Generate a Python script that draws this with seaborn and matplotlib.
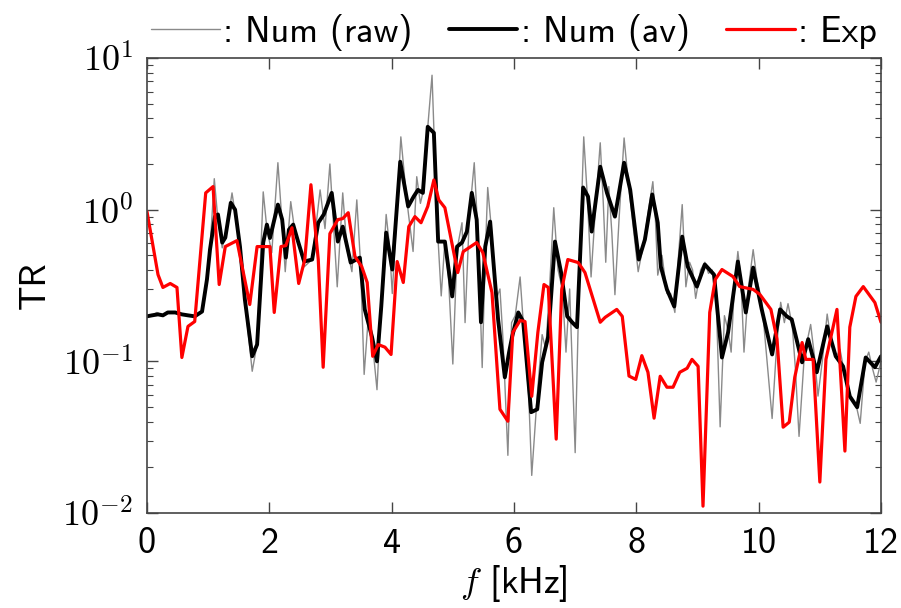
import numpy as np
import pandas as pd
import matplotlib
matplotlib.use("Agg")
import matplotlib.pyplot as plt
import matplotlib.ticker as mticker
import seaborn as sns

# ---- data ----
raw_f = [0.00, 0.08, 0.16, 0.26, 0.34, 0.46, 0.57, 0.67, 0.78, 0.90, 0.98, 1.03, 1.10, 1.16, 1.23,
         1.30, 1.39, 1.44, 1.52, 1.60, 1.72, 1.80, 1.90, 1.96, 2.04, 2.14, 2.21, 2.26, 2.35, 2.42,
         2.50, 2.57, 2.70, 2.83, 2.91, 2.99, 3.11, 3.20, 3.27, 3.35, 3.43, 3.49, 3.55, 3.62, 3.68,
         3.76, 3.83, 3.91, 3.96, 4.01, 4.08, 4.15, 4.22, 4.27, 4.35, 4.41, 4.47, 4.53, 4.59, 4.66,
         4.72, 4.76, 4.81, 4.87, 4.93, 5.00, 5.07, 5.15, 5.20, 5.27, 5.35, 5.41, 5.48, 5.53, 5.57,
         5.63, 5.70, 5.77, 5.82, 5.90, 5.96, 6.02, 6.10, 6.16, 6.24, 6.29, 6.38, 6.46, 6.52, 6.58,
         6.65, 6.72, 6.79, 6.85, 6.91, 7.00, 7.07, 7.14, 7.20, 7.26, 7.33, 7.41, 7.46, 7.50, 7.55,
         7.60, 7.65, 7.72, 7.80, 7.87, 7.93, 8.03, 8.12, 8.20, 8.27, 8.31, 8.35, 8.42, 8.50, 8.56,
         8.63, 8.69, 8.75, 8.81, 8.87, 8.92, 8.97, 9.05, 9.12, 9.18, 9.24, 9.30, 9.37, 9.44, 9.50,
         9.55, 9.60, 9.66, 9.71, 9.76, 9.83, 9.91, 9.97, 10.05, 10.12, 10.22, 10.29, 10.36, 10.42,
         10.48, 10.55, 10.60, 10.66, 10.74, 10.80, 10.85, 10.91, 10.97, 11.04, 11.12, 11.18, 11.26,
         11.33, 11.40, 11.47, 11.54, 11.60, 11.66, 11.74, 11.80, 11.86, 11.92, 12.00]
raw_tr = [0.198, 0.201, 0.21, 0.20, 0.212, 0.21, 0.204, 0.201, 0.198, 0.213, 0.35, 0.55, 1.60, 0.85, 0.56,
          0.75, 1.29, 0.95, 0.55, 0.25, 0.086, 0.13, 1.31, 0.75, 0.52, 2.04, 0.80, 0.39, 1.13, 0.70,
          0.55, 0.42, 0.47, 1.35, 0.75, 2.0, 0.31, 1.29, 0.55, 0.39, 1.16, 0.45, 0.082, 0.20, 0.14,
          0.065, 0.25, 0.93, 0.60, 0.28, 0.9, 3.02, 1.5, 0.97, 0.53, 1.65, 1.1, 1.4, 3.5, 7.7,
          1.5, 0.62, 0.27, 0.62, 0.35, 0.096, 0.55, 0.82, 0.18, 0.9, 2.04, 0.7, 0.091, 0.5, 1.40,
          0.75, 0.25, 0.3, 0.14, 0.024, 0.18, 0.2, 0.36, 0.16, 0.06, 0.0177, 0.06, 0.15, 0.12, 0.3,
          1.03, 0.4, 0.3, 0.115, 0.3, 0.025, 0.4, 3.02, 1.2, 0.36, 1.0, 2.76, 1.1, 0.45, 1.42,
          0.7, 0.275, 0.9, 2.97, 1.5, 0.9, 0.39, 0.6, 1.0, 1.53, 0.9, 0.37, 0.5, 0.28, 0.28,
          0.21, 0.5, 1.08, 0.31, 0.45, 0.40, 0.26, 0.4, 0.45, 0.38, 0.4, 0.3, 0.037, 0.2, 0.16,
          0.115, 0.3, 0.53, 0.35, 0.115, 0.3, 0.545, 0.35, 0.25, 0.12, 0.042, 0.12, 0.245, 0.18,
          0.24, 0.17, 0.09, 0.032, 0.1, 0.14, 0.175, 0.11, 0.059, 0.1, 0.205, 0.14, 0.105,
          0.12, 0.085, 0.06, 0.055, 0.05, 0.039, 0.1, 0.115, 0.09, 0.073, 0.10]

av_f = [0.00, 0.08, 0.18, 0.26, 0.34, 0.46, 0.57, 0.67, 0.78, 0.90, 0.98, 1.03, 1.11, 1.16, 1.23,
        1.28, 1.37, 1.44, 1.52, 1.60, 1.72, 1.80, 1.90, 1.96, 2.01, 2.14, 2.21, 2.27, 2.32, 2.39,
        2.47, 2.57, 2.70, 2.80, 2.89, 3.02, 3.12, 3.20, 3.33, 3.48, 3.56, 3.68, 3.76, 3.83, 3.91,
        4.01, 4.14, 4.27, 4.36, 4.43, 4.51, 4.59, 4.69, 4.76, 4.87, 4.99, 5.07, 5.15, 5.23, 5.31,
        5.39, 5.46, 5.53, 5.61, 5.74, 5.85, 5.92, 5.97, 6.07, 6.15, 6.28, 6.38, 6.46, 6.56, 6.67,
        6.77, 6.87, 6.95, 7.03, 7.13, 7.21, 7.27, 7.41, 7.52, 7.65, 7.80, 7.90, 8.04, 8.14, 8.26,
        8.35, 8.40, 8.50, 8.62, 8.75, 8.84, 8.99, 9.12, 9.27, 9.40, 9.50, 9.66, 9.79, 9.91, 10.05,
        10.22, 10.35, 10.46, 10.54, 10.71, 10.81, 10.95, 11.12, 11.26, 11.38, 11.49, 11.61, 11.75,
        11.90, 12.00]
av_tr = [0.198, 0.201, 0.204, 0.201, 0.210, 0.210, 0.204, 0.201, 0.198, 0.213, 0.346, 0.546, 0.90, 0.93, 0.607,
         0.654, 1.11, 1.0, 0.571, 0.256, 0.108, 0.129, 0.607, 0.797, 0.65, 1.08, 0.86, 0.483, 0.738, 0.797,
         0.616, 0.455, 0.469, 0.82, 0.93, 1.29, 0.616, 0.773, 0.448, 0.483, 0.22, 0.144, 0.10, 0.23, 0.706,
         0.403, 2.07, 1.05, 1.22, 1.35, 1.29, 3.52, 3.21, 0.616, 0.616, 0.268, 0.571, 0.607, 0.717, 1.29,
         0.86, 0.181, 0.571, 0.834, 0.189, 0.0785, 0.115, 0.146, 0.21, 0.183, 0.0462, 0.0483, 0.0985, 0.146, 0.616,
         0.385, 0.198, 0.181, 0.168, 1.40, 1.22, 0.717, 1.92, 1.29, 0.90, 2.04, 1.35, 0.469, 0.635, 1.26,
         0.82, 0.422, 0.298, 0.23, 0.664, 0.422, 0.311, 0.435, 0.373, 0.106, 0.155, 0.455, 0.21, 0.415, 0.22,
         0.111, 0.22, 0.198, 0.189, 0.0985, 0.140, 0.0847, 0.17, 0.108, 0.0927, 0.0588, 0.0498, 0.106,
         0.0914, 0.108]

exp_f = [0.00, 0.18, 0.26, 0.38, 0.49, 0.57, 0.67, 0.78, 0.96, 1.08, 1.18, 1.28, 1.47, 1.68, 1.80,
         2.01, 2.08, 2.19, 2.27, 2.37, 2.48, 2.58, 2.68, 2.80, 2.88, 2.99, 3.12, 3.20, 3.29, 3.40,
         3.51, 3.60, 3.69, 3.78, 3.89, 3.99, 4.09, 4.19, 4.28, 4.38, 4.48, 4.59, 4.69, 4.77, 4.87,
         5.08, 5.17, 5.39, 5.49, 5.64, 5.77, 5.90, 5.98, 6.10, 6.18, 6.29, 6.39, 6.49, 6.56, 6.69,
         6.78, 6.88, 7.05, 7.16, 7.41, 7.49, 7.68, 7.77, 7.88, 7.99, 8.09, 8.19, 8.29, 8.39, 8.50,
         8.60, 8.71, 8.83, 8.91, 9.01, 9.09, 9.20, 9.29, 9.40, 9.58, 9.69, 9.91, 10.02, 10.20, 10.30,
         10.40, 10.50, 10.59, 10.71, 10.77, 10.89, 11.00, 11.10, 11.28, 11.41, 11.49, 11.59, 11.71,
         11.90, 12.00]
exp_tr = [0.97, 0.373, 0.307, 0.326, 0.307, 0.106, 0.170, 0.183, 1.29, 1.42, 0.321, 0.571, 0.625, 0.237, 0.571,
          0.571, 0.210, 0.571, 0.58, 0.76, 0.326, 0.469, 1.46, 0.469, 0.0914, 0.695, 0.86, 0.873, 0.955, 0.491,
          0.422, 0.331, 0.108, 0.129, 0.124, 0.111, 0.455, 0.331, 0.773, 0.90, 0.82, 1.05, 1.57, 1.16, 1.03,
          0.385, 0.529, 0.607, 0.521, 0.284, 0.0483, 0.0403, 0.155, 0.186, 0.183, 0.0588, 0.155, 0.321, 0.307, 0.0307,
          0.298, 0.469, 0.448, 0.385, 0.181, 0.195, 0.22, 0.198, 0.080, 0.076, 0.109, 0.0847, 0.0422, 0.0797, 0.0675,
          0.0675, 0.0847, 0.090, 0.103, 0.0927, 0.0111, 0.210, 0.346, 0.403, 0.362, 0.311, 0.298, 0.276, 0.22, 0.140,
          0.0368, 0.0397, 0.0785, 0.133, 0.103, 0.103, 0.016, 0.103, 0.22, 0.0256, 0.168, 0.268, 0.311,
          0.244, 0.181]

x_ticks = [0, 2, 4, 6, 8, 10, 12]
labels = [": Num (raw)", ": Num (av)", ": Exp"]

# ---- style ----
sns.set_style("ticks")
plt.rcParams["font.family"] = ["cmss10", "DejaVu Sans"]
plt.rcParams["mathtext.fontset"] = "cm"
plt.rcParams["axes.formatter.use_mathtext"] = True
plt.rcParams["text.color"] = "black"
plt.rcParams["axes.labelcolor"] = "black"
plt.rcParams["xtick.color"] = "#444444"
plt.rcParams["ytick.color"] = "#444444"
plt.rcParams["xtick.labelcolor"] = "black"
plt.rcParams["ytick.labelcolor"] = "black"

FS = 26
fig = plt.figure(figsize=(9.01, 6.08), dpi=100)
ax = fig.add_axes([147 / 901, 1 - 513 / 608, (881 - 147) / 901, (513 - 58) / 608])

df_raw = pd.DataFrame({"f": raw_f, "TR": raw_tr})
df_av = pd.DataFrame({"f": av_f, "TR": av_tr})
df_exp = pd.DataFrame({"f": exp_f, "TR": exp_tr})

sns.lineplot(data=df_raw, x="f", y="TR", ax=ax, color="#8a8a8a", lw=1.0,
             estimator=None, sort=False, label=labels[0])
sns.lineplot(data=df_av, x="f", y="TR", ax=ax, color="black", lw=2.8,
             estimator=None, sort=False, label=labels[1])
sns.lineplot(data=df_exp, x="f", y="TR", ax=ax, color="#ff0000", lw=2.3,
             estimator=None, sort=False, label=labels[2])

ax.set_yscale("log")
ax.set_xlim(0, 12)
ax.set_ylim(1e-2, 1e1)
ax.set_xticks(x_ticks)
ax.set_xticklabels([str(t) for t in x_ticks])
ax.yaxis.set_major_locator(mticker.LogLocator(base=10, numticks=10))
ax.yaxis.set_major_formatter(mticker.FuncFormatter(
    lambda v, p: r"$\mathsf{10}^{%s\mathsf{%d}}$" % ("-" if np.log10(v) < 0 else "",
                                                    abs(int(round(np.log10(v)))))))
ax.yaxis.set_minor_locator(mticker.LogLocator(base=10, subs=np.arange(2, 10), numticks=10))
ax.yaxis.set_minor_formatter(mticker.NullFormatter())

ax.tick_params(axis="both", which="major", direction="in", length=8, width=1,
               top=True, right=True, labelsize=FS, pad=10)
ax.tick_params(axis="y", which="minor", direction="in", length=4, width=0.8,
               right=True, left=True)
for s in ax.spines.values():
    s.set_color("#444444")
    s.set_linewidth(1.2)

ax.set_xlabel(r"$f$ [kHz]", fontsize=FS, labelpad=2)
ax.set_ylabel("TR", fontsize=FS, labelpad=8)

leg = ax.legend(loc="center", bbox_to_anchor=(0.5, 1.056), ncol=3, frameon=False,
                fontsize=FS, handlelength=1.9, handletextpad=0.1, columnspacing=1.0,
                borderaxespad=0, borderpad=0)

fig.savefig("out.png", dpi=100)
